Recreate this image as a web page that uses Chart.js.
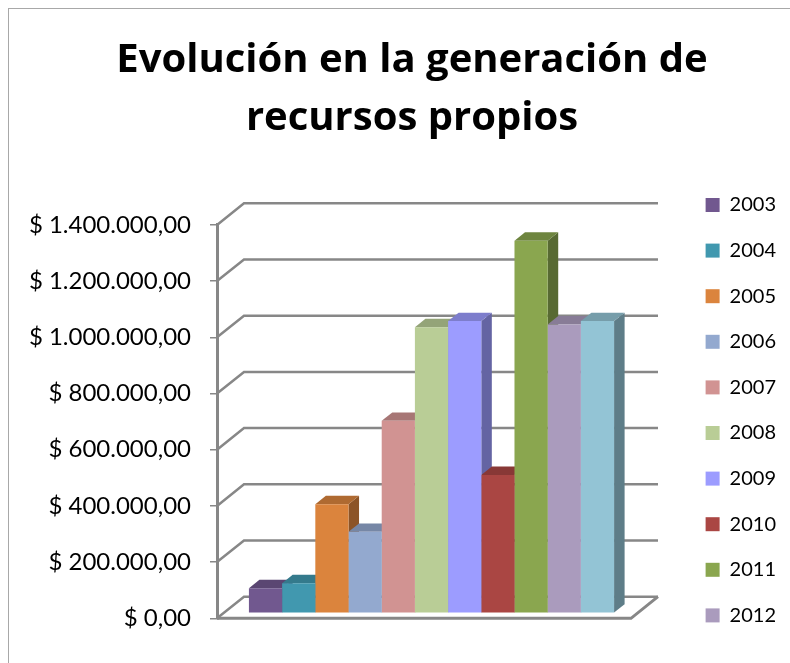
<!DOCTYPE html>
<html>
<head>
<meta charset="utf-8">
<script src="https://cdn.jsdelivr.net/npm/chart.js@4.4.1/dist/chart.umd.min.js"></script>
<style>
  html, body { margin: 0; padding: 0; background: #ffffff; overflow: hidden; }
  #wrap { position: relative; width: 790px; height: 663px; }
  #frame { position: absolute; left: 8px; top: 8px; width: 900px; height: 900px;
           border-top: 1.5px solid #a8a8a8; border-left: 1.5px solid #a8a8a8; }
  #c { position: absolute; left: 0; top: 0; }
</style>
</head>
<body>
<div id="wrap"><div id="frame"></div><canvas id="c" width="790" height="663"></canvas></div>
<script>
// ---------------- data ----------------
const titleLines = ['Evolución en la generación de', 'recursos propios'];
const years  = ['2003', '2004', '2005', '2006', '2007', '2008', '2009', '2010', '2011', '2012', '2013'];
const values = [89000, 107000, 388000, 290000, 685000, 1018000, 1040000, 492000, 1326000, 1028000, 1040000];
const yTickMin = 0;
const yTickMax = 1400000;
const yTickStep = 200000;
const legendShown = 10;   // the reference legend shows the first ten years only

// ---------------- styles ----------------
const frontColors = ['#71588F', '#4198AF', '#DB843D', '#93A9CF', '#D19392', '#B9CD96',
                     '#9C9CFF', '#AA4643', '#8AA64F', '#AA9BBD', '#93C4D5'];
function shade(hex, f) {
  const n = parseInt(hex.slice(1), 16);
  const r = Math.round(((n >> 16) & 255) * f), g = Math.round(((n >> 8) & 255) * f), b = Math.round((n & 255) * f);
  return 'rgb(' + r + ',' + g + ',' + b + ')';
}
const topColors  = frontColors.map(c => shade(c, 0.80));
const sideColors = frontColors.map(c => shade(c, 0.64));

const GRID = '#878787';
const TX = 7.5, TY = 5;     // offset of the bar plane from the front plane
const DX = 27, DY = 21.6;   // full depth of the 3D box
const BD = 0.39;            // bar depth as fraction of full depth
const AREA_RIGHT = 631;
const AREA_LEFT = 217;
const AREA_BOTTOM = 618.3;
const PAD = { left: 38, right: 4, top: 0, bottom: 12 };

function money(v) {
  const s = Math.round(v).toString().replace(/\B(?=(\d{3})+(?!\d))/g, '.');
  return '$ ' + s + ',00';
}

const threeD = {
  id: 'threeD',
  afterLayout(chart) {
    // let the long tick labels run left of the layout padding instead of being clipped
    chart.scales.y.left = 0;
  },
  beforeDatasetsDraw(chart) {
    const { ctx, chartArea: a, scales: { y } } = chart;
    ctx.save();
    ctx.strokeStyle = GRID;
    ctx.lineWidth = 2.5;
    y.ticks.forEach(t => {
      const py = y.getPixelForValue(t.value);
      ctx.beginPath();
      ctx.moveTo(a.left, py);
      ctx.lineTo(a.left + DX, py - DY);
      ctx.lineTo(a.right + DX, py - DY);
      ctx.stroke();
    });
    const y0 = y.getPixelForValue(0);
    ctx.lineWidth = 3;
    ctx.beginPath();
    ctx.moveTo(a.left, y0);
    ctx.lineTo(a.right, y0);
    ctx.lineTo(a.right + DX, y0 - DY);
    ctx.stroke();

    const dx = DX * BD, dy = DY * BD;
    chart.data.datasets.forEach((ds, i) => {
      const meta = chart.getDatasetMeta(i);
      meta.data.forEach(bar => {
        const p = bar.getProps(['x', 'y', 'base', 'width'], true);
        const l = p.x - p.width / 2 + TX, r = p.x + p.width / 2 + TX;
        const t = p.y - TY, b = p.base - TY;
        ctx.fillStyle = sideColors[i];
        ctx.beginPath();
        ctx.moveTo(r, t); ctx.lineTo(r + dx, t - dy); ctx.lineTo(r + dx, b - dy); ctx.lineTo(r, b);
        ctx.closePath(); ctx.fill();
        ctx.fillStyle = topColors[i];
        ctx.beginPath();
        ctx.moveTo(l, t); ctx.lineTo(r, t); ctx.lineTo(r + dx, t - dy); ctx.lineTo(l + dx, t - dy);
        ctx.closePath(); ctx.fill();
      });
    });
    ctx.restore();
    ctx.save();
    ctx.translate(TX, -TY);
  },
  afterDatasetsDraw(chart) {
    chart.ctx.restore();
  }
};

Chart.defaults.font.family = 'Lato';
Chart.defaults.color = '#000';

new Chart(document.getElementById('c'), {
  type: 'bar',
  data: {
    labels: [''],
    datasets: years.map((yr, i) => ({
      label: yr,
      data: [values[i]],
      backgroundColor: frontColors[i],
      borderWidth: 0,
      categoryPercentage: 0.882,
      barPercentage: 1,
      clip: false
    }))
  },
  options: {
    responsive: false,
    animation: false,
    events: [],
    layout: { padding: PAD },
    plugins: {
      tooltip: { enabled: false },
      title: {
        display: true,
        text: titleLines,
        color: '#000',
        font: { family: "'Open Sans'", size: 40, weight: 'bold', lineHeight: '58px' },
        padding: { top: 31.3, bottom: 77.6 }
      },
      legend: {
        position: 'right',
        align: 'end',
        weight: 3000,
        labels: {
          font: { family: 'Lato', size: 20 },
          color: '#000',
          boxWidth: 14,
          boxHeight: 14,
          padding: 25.6,
          filter: item => item.datasetIndex < legendShown
        }
      }
    },
    scales: {
      x: {
        display: true,
        ticks: { display: false },
        grid: { display: false },
        border: { display: false },
        afterFit(s) { s.height = 663 - PAD.bottom - AREA_BOTTOM; }
      },
      y: {
        min: yTickMin,
        max: yTickMax,
        ticks: {
          stepSize: yTickStep,
          padding: 19,
          font: { family: 'Lato', size: 24 },
          color: '#000',
          callback: v => money(v)
        },
        grid: { display: true, drawOnChartArea: false, drawTicks: true, tickLength: 7, color: GRID, lineWidth: 1.5 },
        border: { display: true, color: GRID, width: 3 },
        afterFit(s) { s.width = AREA_LEFT - PAD.left; }
      },
      y2: {
        position: 'right',
        display: true,
        ticks: { display: false },
        grid: { display: false },
        border: { display: false },
        afterFit(s) {
          const lw = (s.chart.legend && s.chart.legend.width) || 106;
          s.width = Math.max(0, 790 - PAD.right - lw - AREA_RIGHT);
        }
      }
    }
  },
  plugins: [threeD]
});
</script>
</body>
</html>
